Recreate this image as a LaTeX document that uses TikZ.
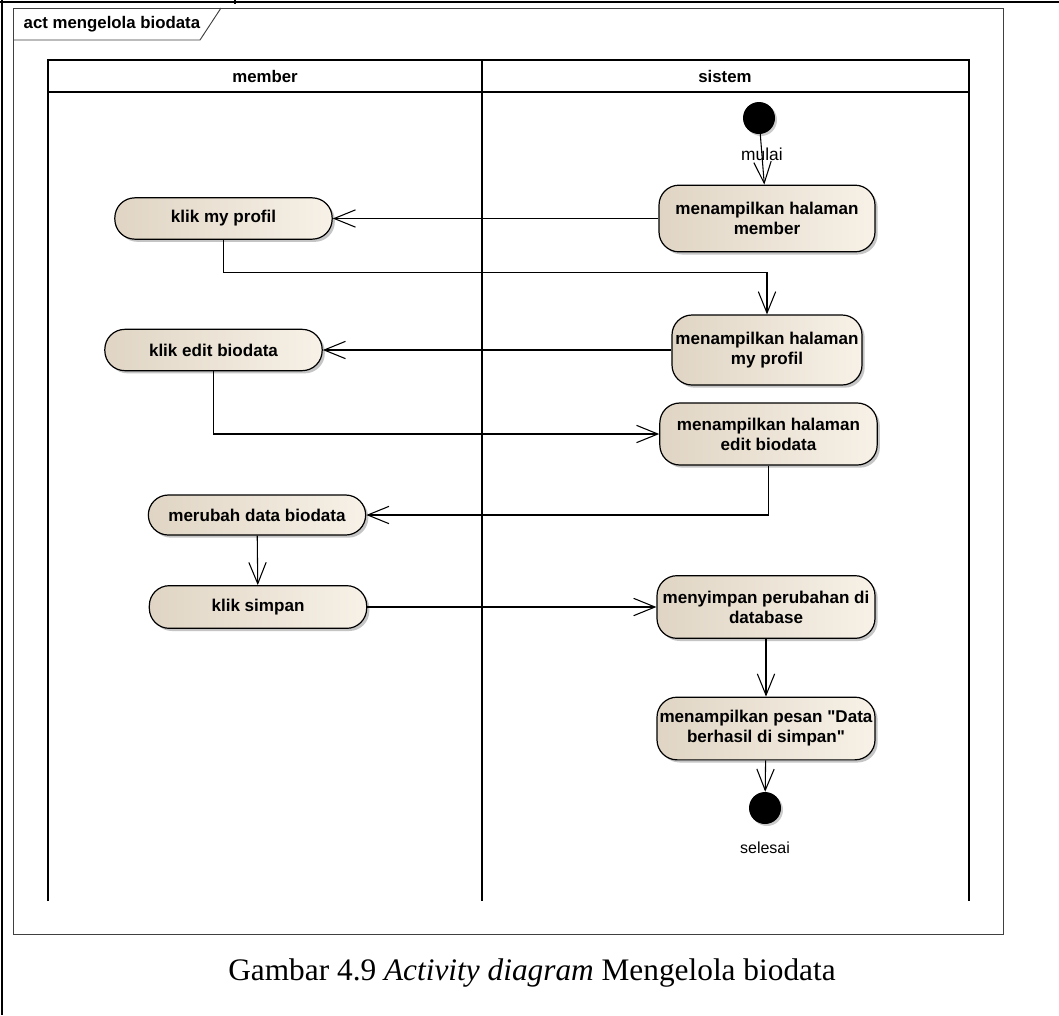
\documentclass[tikz,border=0pt]{standalone}
\usepackage{fontspec}
\setmainfont{Liberation Sans}
\newfontfamily\umlfont{Liberation Sans}
\newfontfamily\capfont{Liberation Serif}
\usetikzlibrary{arrows.meta,shadows}
\definecolor{actleft}{RGB}{224,213,196}
\definecolor{actright}{RGB}{247,241,231}
\tikzset{
  action/.style={draw, line width=0.9pt, rounded corners=15pt, align=center,
    left color=actleft, right color=actright, inner sep=1pt,
    drop shadow={shadow xshift=2pt, shadow yshift=-2pt, fill=black!45},
    font=\umlfont\fontsize{12.8}{15}\selectfont\bfseries},
  dot/.style={circle, fill=black, minimum size=24pt, inner sep=0pt,
    drop shadow={shadow xshift=1.5pt, shadow yshift=-1.5pt, fill=black!40}},
  flow/.style={line width=0.8pt,
    -{Straight Barb[length=16pt, width=13pt, line width=0.8pt]}},
  lane/.style={line width=1.2pt},
  frame/.style={line width=0.7pt, black!75},
  lbl/.style={font=\umlfont\fontsize{12}{14}\selectfont},
  hdr/.style={font=\umlfont\fontsize{12.6}{15}\selectfont\bfseries}
}
\begin{document}
\begin{tikzpicture}[x=0.75pt, y=-0.75pt]
  \path[fill=white, use as bounding box] (0,0) rectangle (1059,1015);
  %% page lines
  \draw[line width=1.8pt] (0,2) -- (1059,2);
  \draw[line width=1.8pt] (2,0) -- (2,1015);
  \draw[line width=0.8pt] (235,0) -- (235,4);
  %% frame
  \draw[frame] (13,8) rectangle (1003,934);
  \draw[frame] (13,40) -- (200,40) -- (221,8);
  \node[hdr, anchor=west] (title) at (19,24) {act mengelola biodata};
  %% swimlanes
  \draw[lane] (48,901) -- (48,60) -- (969,60) -- (969,901);
  \draw[lane] (48,92) -- (969,92);
  \draw[lane] (482,60) -- (482,901);
  \node[hdr] (member) at (265,76) {member};
  \node[hdr] (sistem) at (725,76) {sistem};
  %% sistem
  \node[dot] (start) at (759,118) {};
  \node[action, minimum width=162pt, minimum height=50pt] (A1) at (767,218.5)
    {menampilkan halaman\\member};
  \node[action, minimum width=142.5pt, minimum height=52.5pt] (A2) at (767,350)
    {menampilkan halaman\\my profil};
  \node[action, minimum width=163pt, minimum height=46.5pt] (A3) at (768.5,434)
    {menampilkan halaman\\edit biodata};
  \node[action, minimum width=163.5pt, minimum height=47pt] (A4) at (766,607)
    {menyimpan perubahan di\\database};
  \node[action, minimum width=163.5pt, minimum height=47pt] (A5) at (766,728.5)
    {menampilkan pesan "Data\\berhasil di simpan"};
  \node[dot] (stop) at (765,808) {};
  \node[lbl] (selesai) at (765,848) {selesai};
  %% member
  \node[action, minimum width=163pt, minimum height=31pt] (B1) at (223.5,218.5) {klik my profil};
  \node[action, minimum width=163pt, minimum height=31pt] (B2) at (213.5,350) {klik edit biodata};
  \node[action, minimum width=163pt, minimum height=30pt] (B3) at (257,515) {merubah data biodata};
  \node[action, minimum width=163pt, minimum height=32pt] (B4) at (258,607) {klik simpan};
  %% flows
  \draw[flow] (start) -- node[lbl, font=\umlfont\fontsize{13}{15}\selectfont, pos=0.4] (mulai) {mulai} (A1);
  \draw[flow] (A1) -- (B1);
  \draw[flow] (B1.south) -- ++(0,33) -| (A2.north);
  \draw[flow] (A2) -- (B2);
  \draw[flow] (B2.south) |- (A3.west);
  \draw[flow] (A3.south) |- (B3.east);
  \draw[flow] (B3) -- (B4);
  \draw[flow] (B4) -- (A4);
  \draw[flow] (A4) -- (A5);
  \draw[flow] (A5) -- (stop);
  %% caption
  \node[anchor=base, font=\capfont\fontsize{23.5}{28}\selectfont] (caption) at (532,980)
    {Gambar 4.9 \textit{Activity diagram} Mengelola biodata};
\end{tikzpicture}
\end{document}
